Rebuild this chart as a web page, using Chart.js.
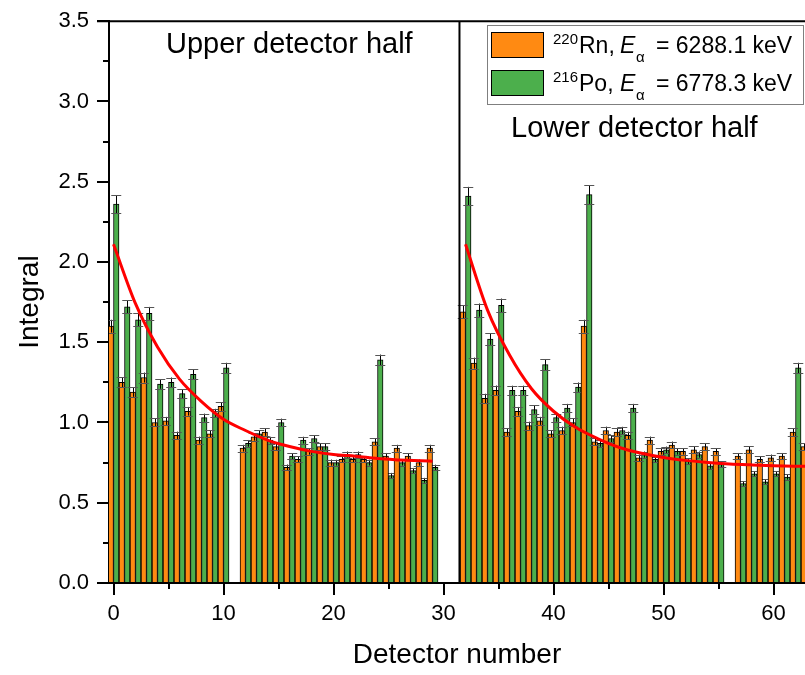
<!DOCTYPE html>
<html>
<head>
<meta charset="utf-8">
<script src="https://cdn.jsdelivr.net/npm/chart.js@4"></script>
<style>
  body { margin: 0; background: #fff; }
</style>
</head>
<body>
<canvas id="chart" width="805" height="675"></canvas>
<script>
// detector index, 64 detectors; null = detector not shown
const detectors = Array.from({ length: 64 }, (_, i) => i);

const rnValues = [
  1.60, 1.25, 1.19, 1.28, 1.00, 1.01, 0.92, 1.07, 0.89, 0.93, 1.10, null,
  0.84, 0.91, 0.94, 0.85, 0.72, 0.77, 0.82, 0.85, 0.75, 0.77, 0.77, 0.77,
  0.88, 0.79, 0.84, 0.79, 0.75, 0.84, null, null,
  1.69, 1.37, 1.15, 1.20, 0.94, 1.07, 0.98, 1.01, 0.93, 0.95, 1.00, 1.60,
  0.88, 0.95, 0.94, 0.92, 0.78, 0.89, 0.82, 0.86, 0.82, 0.83, 0.85, 0.82,
  null, 0.79, 0.83, 0.77, 0.78, 0.79, 0.94, 0.85
];
const rnErrors = [
  0.040, 0.031, 0.030, 0.031, 0.025, 0.025, 0.023, 0.027, 0.022, 0.023, 0.027, null,
  0.021, 0.023, 0.023, 0.021, 0.018, 0.019, 0.020, 0.021, 0.019, 0.019, 0.019, 0.019,
  0.022, 0.020, 0.021, 0.020, 0.019, 0.021, null, null,
  0.042, 0.034, 0.029, 0.030, 0.023, 0.027, 0.025, 0.025, 0.023, 0.024, 0.025, 0.040,
  0.022, 0.024, 0.023, 0.023, 0.020, 0.022, 0.020, 0.021, 0.020, 0.021, 0.021, 0.020,
  null, 0.020, 0.021, 0.019, 0.020, 0.020, 0.023, 0.021
];
const poValues = [
  2.36, 1.72, 1.64, 1.68, 1.24, 1.25, 1.18, 1.30, 1.03, 1.06, 1.34, null,
  0.87, 0.93, 0.89, 1.00, 0.79, 0.89, 0.90, 0.85, 0.75, 0.80, 0.80, 0.75,
  1.39, 0.67, 0.75, 0.70, 0.64, 0.72, null, null,
  2.41, 1.70, 1.52, 1.73, 1.20, 1.20, 1.08, 1.36, 1.03, 1.09, 1.22, 2.42,
  0.87, 0.90, 0.95, 1.09, 0.80, 0.77, 0.83, 0.82, 0.76, 0.80, 0.73, 0.74,
  null, 0.62, 0.68, 0.63, 0.68, 0.66, 1.34, 0.80
];
const poErrors = [
  0.057, 0.041, 0.039, 0.040, 0.030, 0.030, 0.028, 0.031, 0.025, 0.025, 0.032, null,
  0.021, 0.022, 0.021, 0.024, 0.019, 0.021, 0.022, 0.020, 0.018, 0.019, 0.019, 0.018,
  0.033, 0.016, 0.018, 0.017, 0.015, 0.017, null, null,
  0.058, 0.041, 0.036, 0.042, 0.029, 0.029, 0.026, 0.033, 0.025, 0.026, 0.029, 0.058,
  0.021, 0.022, 0.023, 0.026, 0.019, 0.018, 0.020, 0.020, 0.018, 0.019, 0.018, 0.018,
  null, 0.015, 0.016, 0.015, 0.016, 0.016, 0.032, 0.019
];

// fit curves
const upperFitX = [0, 2, 4, 6, 8, 10, 12, 14, 16, 18, 20, 22, 24, 26, 28, 29];
const upperFitY = [2.11, 1.74, 1.47, 1.27, 1.13, 1.02, 0.95, 0.89, 0.85, 0.82, 0.80, 0.79, 0.775, 0.767, 0.761, 0.759];
const lowerFitX = [32, 34, 36, 38, 40, 42, 44, 46, 48, 50, 52, 54, 56, 58, 60, 62, 63];
const lowerFitY = [2.11, 1.70, 1.42, 1.21, 1.07, 0.97, 0.90, 0.844, 0.808, 0.782, 0.764, 0.751, 0.742, 0.736, 0.731, 0.728, 0.727];

const dividerX = 31.45;

const xTicks = [0, 10, 20, 30, 40, 50, 60];
const yTicks = [0, 0.5, 1.0, 1.5, 2.0, 2.5, 3.0, 3.5];

const FONT = "'Liberation Sans', Arial, sans-serif";
const ORANGE = '#ff8a12';
const GREEN = '#4caf4c';

function points(vals, errs) {
  const out = [];
  detectors.forEach((d, i) => {
    if (vals[i] !== null) out.push({ x: d, y: vals[i], err: errs[i] });
  });
  return out;
}
function curve(xs, ys) {
  return xs.map((x, i) => ({ x: x, y: ys[i] }));
}

const errorBars = {
  id: 'errorBars',
  afterDatasetDraw(chart, args) {
    const meta = args.meta;
    if (meta.type !== 'bar') return;
    const ds = chart.data.datasets[args.index];
    const y = chart.scales.y;
    const c = chart.ctx;
    c.save();
    c.beginPath();
    c.rect(chart.chartArea.left, chart.chartArea.top, chart.chartArea.width, chart.chartArea.height);
    c.clip();
    meta.data.forEach((bar, i) => {
      const p = ds.data[i];
      const yt = y.getPixelForValue(p.y + p.err);
      const yb = y.getPixelForValue(p.y - p.err);
      c.strokeStyle = '#000';
      c.lineWidth = 1;
      c.beginPath();
      c.moveTo(Math.round(bar.x) + 0.5, yt);
      c.lineTo(Math.round(bar.x) + 0.5, yb);
      c.stroke();
      c.strokeStyle = '#555';
      c.beginPath();
      c.moveTo(bar.x - 5, Math.round(yt) + 0.5);
      c.lineTo(bar.x + 5, Math.round(yt) + 0.5);
      c.moveTo(bar.x - 5, Math.round(yb) + 0.5);
      c.lineTo(bar.x + 5, Math.round(yb) + 0.5);
      c.stroke();
    });
    c.restore();
  }
};

const decorations = {
  id: 'decorations',
  afterDraw(chart) {
    const c = chart.ctx;
    const area = chart.chartArea;
    const xs = chart.scales.x, ys = chart.scales.y;
    c.save();
    // top frame
    c.strokeStyle = '#000';
    c.lineWidth = 2;
    c.beginPath();
    c.moveTo(area.left - 12, area.top);
    c.lineTo(area.right, area.top);
    c.stroke();
    // minor ticks
    c.beginPath();
    for (let v = 0.25; v < 3.5; v += 0.5) {
      const py = Math.round(ys.getPixelForValue(v));
      c.moveTo(area.left - 6, py);
      c.lineTo(area.left, py);
    }
    for (let v = 5; v < 63; v += 10) {
      const px = Math.round(xs.getPixelForValue(v));
      c.moveTo(px, area.bottom);
      c.lineTo(px, area.bottom + 6);
    }
    c.stroke();

    // annotations
    c.fillStyle = '#000';
    c.textBaseline = 'alphabetic';
    c.font = '29px ' + FONT;
    c.fillText('Upper detector half', 166, 53);
    c.fillText('Lower detector half', 511, 137);

    // legend box
    c.fillStyle = '#fff';
    c.fillRect(487, 25, 316, 79);
    c.strokeStyle = '#7f7f7f';
    c.lineWidth = 1;
    c.strokeRect(487.5, 25.5, 316, 79);

    const rows = [
      { color: ORANGE, sup: '220', name: 'Rn,', value: '= 6288.1 keV', top: 32, base: 53 },
      { color: GREEN, sup: '216', name: 'Po,', value: '= 6778.3 keV', top: 70, base: 91 }
    ];
    rows.forEach(r => {
      c.fillStyle = r.color;
      c.fillRect(491, r.top, 52, 25);
      c.strokeStyle = '#000';
      c.strokeRect(491.5, r.top + 0.5, 52, 25);
      c.fillStyle = '#000';
      c.font = '15px ' + FONT;
      c.fillText(r.sup, 553, r.base - 9.5);
      c.font = '23px ' + FONT;
      c.fillText(r.name, 579, r.base);
      c.font = 'italic 23px ' + FONT;
      c.fillText('E', 620, r.base);
      c.font = '15px ' + FONT;
      c.fillText('\u03b1', 636, r.base + 8.5);
      c.font = '23px ' + FONT;
      c.fillText(r.value, 656, r.base);
    });
    c.restore();
  }
};

const ctx = document.getElementById('chart').getContext('2d');
const chart = new Chart(ctx, {
  type: 'bar',
  data: {
    datasets: [
      {
        type: 'line',
        data: curve(upperFitX, upperFitY),
        borderColor: '#ff0000',
        borderWidth: 3,
        pointRadius: 0,
        cubicInterpolationMode: 'monotone',
        order: 1
      },
      {
        type: 'line',
        data: curve(lowerFitX, lowerFitY),
        borderColor: '#ff0000',
        borderWidth: 3,
        pointRadius: 0,
        cubicInterpolationMode: 'monotone',
        order: 1
      },
      {
        type: 'line',
        data: [{ x: dividerX, y: 0 }, { x: dividerX, y: 3.5 }],
        borderColor: '#000',
        borderWidth: 2,
        pointRadius: 0,
        order: 1
      },
      {
        label: '220Rn',
        data: points(rnValues, rnErrors),
        backgroundColor: ORANGE,
        borderColor: '#000',
        borderWidth: 1,
        barPercentage: 1,
        categoryPercentage: 1,
        order: 2
      },
      {
        label: '216Po',
        data: points(poValues, poErrors),
        backgroundColor: GREEN,
        borderColor: '#000',
        borderWidth: 1,
        barPercentage: 1,
        categoryPercentage: 1,
        order: 2
      }
    ]
  },
  options: {
    responsive: false,
    animation: false,
    layout: { padding: { top: 15, right: 0, left: 0, bottom: 0 } },
    plugins: {
      legend: { display: false },
      tooltip: { enabled: false }
    },
    scales: {
      x: {
        type: 'linear',
        offset: false,
        min: -0.41,
        max: 62.86,
        afterFit: (scale) => { scale.height = 92; },
        afterBuildTicks: (scale) => { scale.ticks = xTicks.map(v => ({ value: v })); },
        ticks: {
          includeBounds: false,
          color: '#000',
          padding: 6,
          font: { size: 22, family: FONT },
          maxRotation: 0
        },
        grid: { offset: false, drawOnChartArea: false, tickLength: 12, color: '#000', lineWidth: 2 },
        border: { color: '#000', width: 2 },
        title: {
          display: true,
          text: 'Detector number',
          color: '#000',
          font: { size: 28, family: FONT },
          padding: { top: 0, bottom: 3 }
        }
      },
      y: {
        min: 0,
        max: 3.5,
        afterFit: (scale) => { scale.width = 109; },
        afterBuildTicks: (scale) => { scale.ticks = yTicks.map(v => ({ value: v })); },
        ticks: {
          color: '#000',
          padding: 8,
          font: { size: 22, family: FONT },
          callback: (v) => v.toFixed(1)
        },
        grid: { drawOnChartArea: false, tickLength: 12, color: '#000', lineWidth: 2 },
        border: { color: '#000', width: 2 },
        title: {
          display: true,
          text: 'Integral',
          color: '#000',
          font: { size: 28, family: FONT },
          padding: { top: 13, bottom: 0 }
        }
      }
    }
  },
  plugins: [errorBars, decorations]
});
</script>
</body>
</html>
